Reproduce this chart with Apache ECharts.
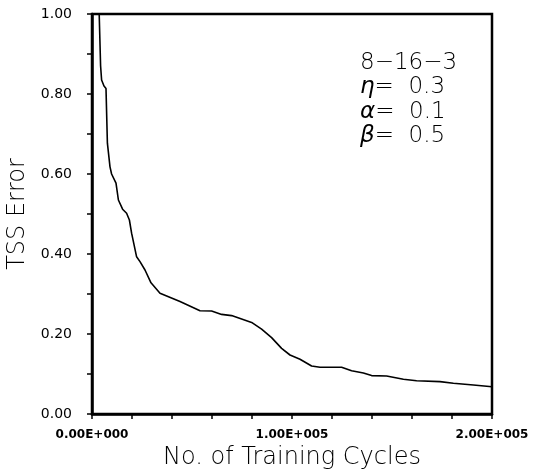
<!DOCTYPE html>
<html>
<head>
<meta charset="utf-8">
<script src="https://cdn.jsdelivr.net/npm/echarts@6/dist/echarts.min.js"></script>
<style>html,body{margin:0;padding:0;background:#fff;}#c{width:539px;height:472px;}</style>
</head>
<body>
<div id="c"></div>
<script>
// Training cycles (x) and TSS error (y)
const cycles = [3600, 4300, 4800, 6000, 7000, 7700, 9000, 9800, 12000, 13200, 14000, 15300, 17300, 18700, 19800, 22300, 24000, 26500, 29500, 34000, 44000, 54000, 59800, 64800, 69800, 74800, 79800, 84800, 89800, 94800, 99000, 104000, 109800, 114000, 124800, 129800, 135700, 139800, 147300, 155700, 162300, 174000, 180700, 190700, 200000];
const tssError = [1.00, 0.87, 0.835, 0.82, 0.814, 0.677, 0.618, 0.60, 0.577, 0.535, 0.531, 0.512, 0.502, 0.485, 0.452, 0.393, 0.381, 0.36, 0.328, 0.302, 0.281, 0.258, 0.2575, 0.249, 0.246, 0.2375, 0.229, 0.212, 0.191, 0.164, 0.1475, 0.137, 0.12, 0.117, 0.117, 0.108, 0.1025, 0.096, 0.095, 0.087, 0.083, 0.081, 0.077, 0.0725, 0.068];
const xTickValues = [0, 100000, 200000];
const xTickLabels = ['0.00E+000', '1.00E+005', '2.00E+005'];
const yTickLabels = ['0.00', '0.20', '0.40', '0.60', '0.80', '1.00'];
const annotationSymbols = ['', '\u03b7', '\u03b1', '\u03b2'];
const annotationTexts = ['8\u221216\u22123', '=  0.3', '=  0.1', '=  0.5'];

const chart = echarts.init(document.getElementById('c'), null, {renderer: 'canvas'});
const FONT = 'DejaVu Sans, Verdana, sans-serif';
chart.setOption({
  animation: false,
  backgroundColor: '#fff',
  grid: {left: 92, right: 47, top: 14, bottom: 58, containLabel: false, outerBoundsMode: 'none',
         show: true, borderColor: '#000', borderWidth: 2.5},
  xAxis: {
    type: 'value', min: 0, max: 200000, interval: 20000,
    name: 'No. of Training Cycles', nameLocation: 'middle', nameGap: 31,
    nameTextStyle: {fontFamily: FONT, fontSize: 24, fontWeight: 200, color: '#000'},
    axisLine: {show: true, lineStyle: {color: '#000', width: 2.5}},
    axisTick: {show: true, inside: false, length: 5, lineStyle: {color: '#000', width: 1.5}},
    splitLine: {show: false},
    axisLabel: {
      fontFamily: FONT, fontSize: 12, fontWeight: 'bold', color: '#000', margin: 15, showMinLabel: true, showMaxLabel: true,
      formatter: v => { const i = xTickValues.indexOf(v); return i >= 0 ? xTickLabels[i] : ''; }
    }
  },
  yAxis: {
    type: 'value', min: 0, max: 1, interval: 0.1,
    name: 'TSS Error', nameLocation: 'middle', nameGap: 53, nameRotate: 90,
    nameTextStyle: {fontFamily: FONT, fontSize: 24, fontWeight: 200, color: '#000'},
    axisLine: {show: true, lineStyle: {color: '#000', width: 2.5}},
    axisTick: {show: true, inside: false, length: 5, lineStyle: {color: '#000', width: 1.5}},
    splitLine: {show: false},
    axisLabel: {
      fontFamily: FONT, fontSize: 14, color: '#000', margin: 20,
      formatter: v => { const k = Math.round(v * 10); return k % 2 === 0 ? yTickLabels[k / 2] : ''; }
    }
  },
  graphic: annotationTexts.map((t, i) => ({
    type: 'text', x: 360, y: 63 + i * 24.5,
    style: {
      text: (annotationSymbols[i] ? '{g|' + annotationSymbols[i] + '}' : '') + t,
      font: '200 23px ' + FONT, fill: '#000', verticalAlign: 'middle',
      rich: {g: {fontFamily: FONT, fontSize: 23, fontStyle: 'italic', fill: '#000'}}
    }
  })),
  series: [{
    type: 'line', showSymbol: false, symbol: 'none', clip: true,
    lineStyle: {color: '#000', width: 1.6},
    data: cycles.map((c, i) => [c, tssError[i]])
  }]
});
</script>
</body>
</html>
